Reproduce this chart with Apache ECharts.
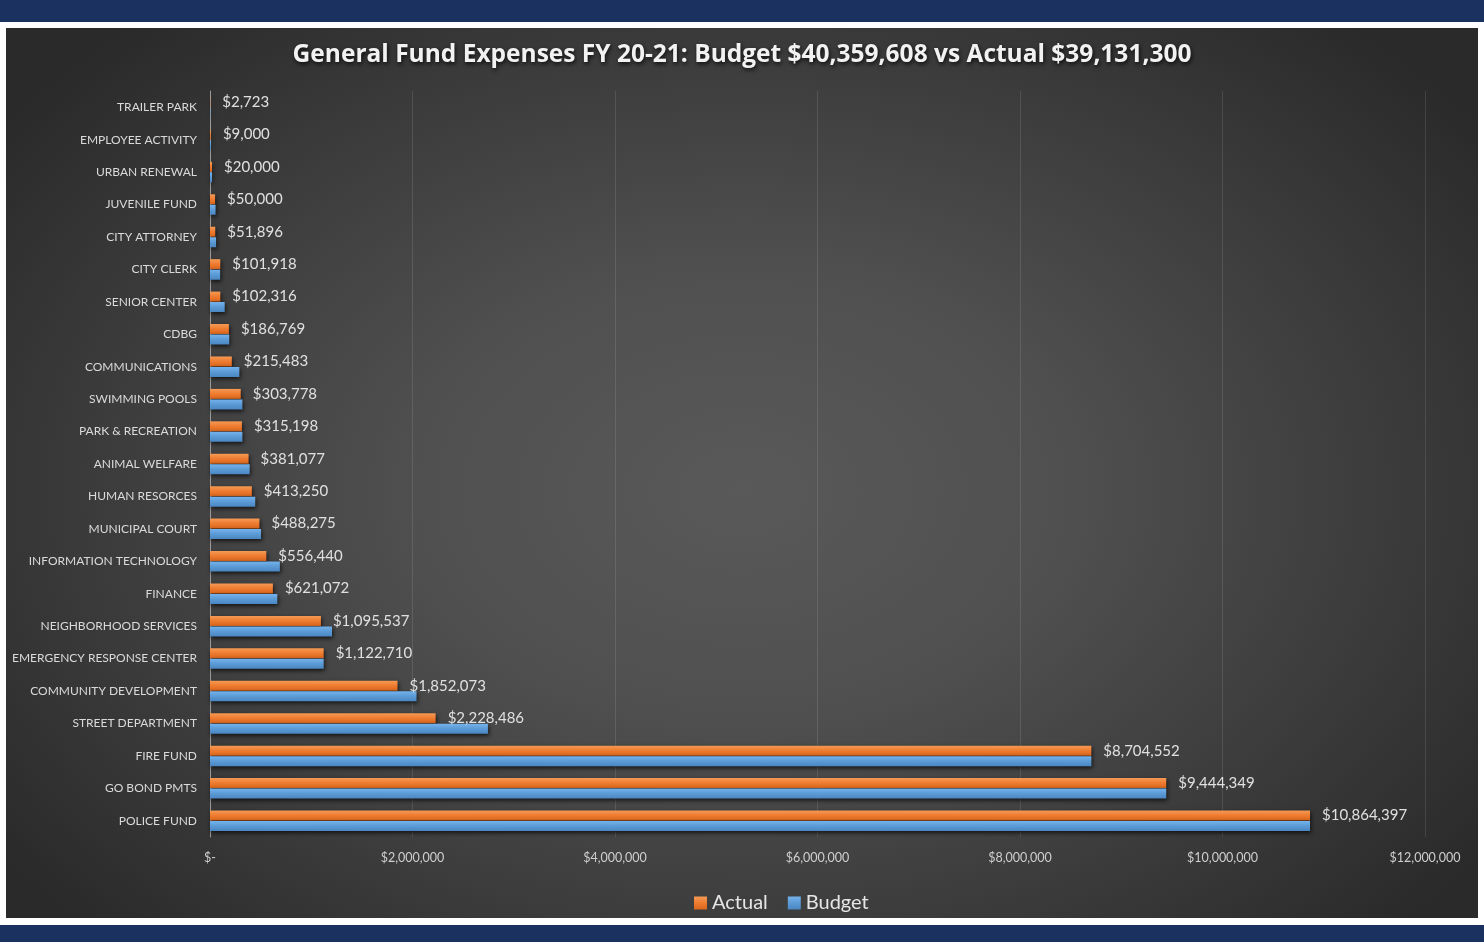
<!DOCTYPE html>
<html>
<head>
<meta charset="utf-8">
<script src="https://cdn.jsdelivr.net/npm/echarts@6/dist/echarts.min.js"></script>
<style>
  html, body { margin:0; padding:0; width:1484px; height:942px; background:#ffffff; overflow:hidden; }
  #topbar { position:absolute; left:0; top:0; width:1484px; height:22px; background:#1b3160; }
  #botbar { position:absolute; left:0; top:925px; width:1484px; height:17px; background:#1b3160; }
  #chart { position:absolute; left:6px; top:28px; width:1472px; height:890px;
    background: radial-gradient(ellipse 62% 70% at 50% 52%, #595959 0%, #505050 35%, #3c3c3c 70%, #2a2a2a 100%); }
</style>
</head>
<body>
<div id="topbar"></div>
<div id="chart"></div>
<div id="botbar"></div>
<script>
const categories = ["TRAILER PARK","EMPLOYEE ACTIVITY","URBAN RENEWAL","JUVENILE FUND","CITY ATTORNEY","CITY CLERK","SENIOR CENTER","CDBG","COMMUNICATIONS","SWIMMING POOLS","PARK & RECREATION","ANIMAL WELFARE","HUMAN RESORCES","MUNICIPAL COURT","INFORMATION TECHNOLOGY","FINANCE","NEIGHBORHOOD SERVICES","EMERGENCY RESPONSE CENTER","COMMUNITY DEVELOPMENT","STREET DEPARTMENT","FIRE FUND","GO BOND PMTS","POLICE FUND"];
const actual = [2723,9000,20000,50000,51896,101918,102316,186769,215483,303778,315198,381077,413250,488275,556440,621072,1095537,1122710,1852073,2228486,8704552,9444349,10864397];
const budget = [3000,9000,20000,55000,60000,100000,145000,190000,290000,320000,320000,392000,447000,504000,690000,665000,1205000,1122710,2040000,2745000,8705000,9444349,10864397];
const xTicks = [0,2000000,4000000,6000000,8000000,10000000,12000000];
const titleText = "General Fund Expenses FY 20-21: Budget $40,359,608 vs Actual $39,131,300";

function money(v){ return v === 0 ? "$-" : "$" + v.toLocaleString("en-US"); }

const chart = echarts.init(document.getElementById('chart'), null, {renderer:'canvas'});
const font = "Lato, 'Open Sans', sans-serif";
chart.setOption({
  backgroundColor: 'transparent',
  textStyle: { fontFamily: font },
  title: {
    text: titleText, left: 'center', top: 10,
    textStyle: { color:'#f2f2f2', fontSize:24.5, fontWeight:'bold', fontFamily:"'Open Sans', Lato, sans-serif",
      textShadowColor:'rgba(0,0,0,0.8)', textShadowBlur:4, textShadowOffsetX:1, textShadowOffsetY:2 }
  },
  legend: {
    data:['Actual','Budget'], left: 683, top: 860, icon:'rect', itemWidth:13, itemHeight:13, itemGap:20,
    textStyle:{ color:'#e6e6e6', fontSize:20, fontFamily:font }
  },
  grid: { left:204, right:53, top:63, bottom:81, containLabel:false, outerBoundsMode:'none' },
  xAxis: {
    type:'value', min:0, max:12000000, interval:2000000,
    axisLine:{show:false}, axisTick:{show:false},
    axisLabel:{ color:'#cfcfcf', fontSize:12.5, margin:14, formatter: v => money(v) },
    splitLine:{ show:true, lineStyle:{ color:'rgba(255,255,255,0.11)', width:1 } }
  },
  yAxis: {
    type:'category', data:categories, inverse:true,
    axisLine:{ show:true, lineStyle:{ color:'#9a9a9a', width:1 } },
    axisTick:{show:false},
    axisLabel:{ color:'#dadada', fontSize:12, margin:13 }
  },
  series: [
    { name:'Actual', type:'bar', data:actual, barWidth:10, barGap:'5%',
      itemStyle:{ color: new echarts.graphic.LinearGradient(0,0,0,1,[{offset:0,color:'#f59a55'},{offset:0.5,color:'#ee7b2f'},{offset:1,color:'#d8661d'}]),
        shadowColor:'rgba(0,0,0,0.7)', shadowBlur:4, shadowOffsetY:2, shadowOffsetX:1 },
      label:{ show:true, position:'right', distance:12, color:'#e0e0e0', fontSize:15, fontFamily:font, formatter: p => money(p.value) }
    },
    { name:'Budget', type:'bar', data:budget, barWidth:10,
      itemStyle:{ color: new echarts.graphic.LinearGradient(0,0,0,1,[{offset:0,color:'#74b2ec'},{offset:0.5,color:'#5b9bd5'},{offset:1,color:'#4a86c2'}]),
        shadowColor:'rgba(0,0,0,0.7)', shadowBlur:4, shadowOffsetY:2, shadowOffsetX:1 }
    }
  ]
});
</script>
</body>
</html>
